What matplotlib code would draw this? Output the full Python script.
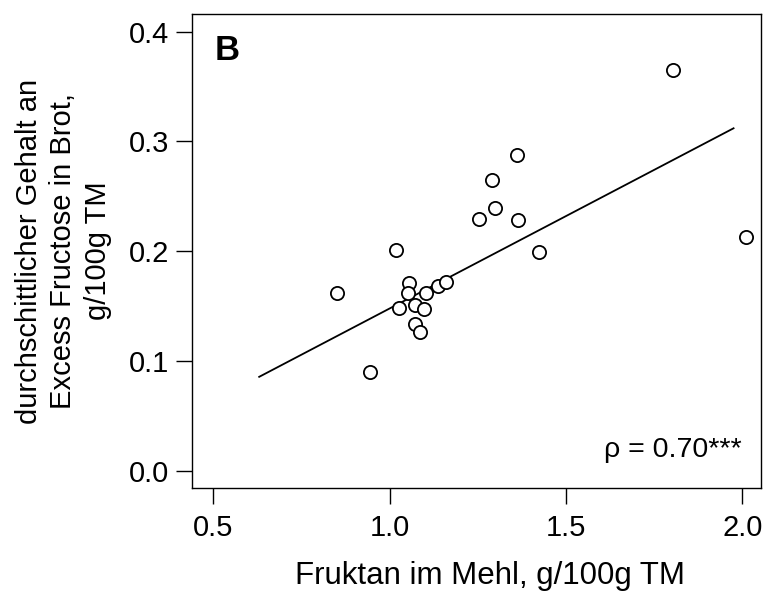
import numpy as np
import matplotlib
matplotlib.use("Agg")
import matplotlib.pyplot as plt

plt.rcParams['font.family'] = ['Liberation Sans', 'DejaVu Sans']

# Fruktan im Mehl (g/100g TM) vs. Excess Fructose in Brot (g/100g TM)
fruktan = [1.804, 2.009, 1.362, 1.291, 1.300, 1.252, 1.365, 1.424, 1.019, 0.850, 0.944,
           1.056, 1.053, 1.027, 1.071, 1.096, 1.103, 1.072, 1.087, 1.136, 1.161]
fructose = [0.365, 0.213, 0.288, 0.265, 0.239, 0.229, 0.228, 0.199, 0.201, 0.162, 0.090,
            0.171, 0.162, 0.148, 0.151, 0.147, 0.162, 0.134, 0.126, 0.168, 0.172]

# Regressionsgerade
fit_x = [0.63, 1.975]
fit_slope = 0.1684
fit_intercept = -0.0206

x_ticks = [0.5, 1.0, 1.5, 2.0]
y_ticks = [0.0, 0.1, 0.2, 0.3, 0.4]

fig = plt.figure(figsize=(7.66, 5.97), dpi=100)
ax = fig.add_axes([0.2507, 0.1826, 0.7424, 0.7939])

fit_y = [fit_slope * x + fit_intercept for x in fit_x]
ax.plot(fit_x, fit_y, color='black', linewidth=1.3)
ax.plot(fruktan, fructose, 'o', markersize=9.5, markerfacecolor='white',
        markeredgecolor='black', markeredgewidth=1.3, linestyle='none')

ax.set_xlim(0.4396, 2.052)
ax.set_ylim(-0.0158, 0.4161)
ax.set_xticks(x_ticks)
ax.set_yticks(y_ticks)
ax.set_xticklabels([f"{v:.1f}" for v in x_ticks])
ax.set_yticklabels([f"{v:.1f}" for v in y_ticks])
ax.tick_params(direction='out', length=11.5, width=1.0, labelsize=21, pad=5)
ax.tick_params(axis='x', pad=7)

for sp in ax.spines.values():
    sp.set_linewidth(1.0)

ax.set_xlabel("Fruktan im Mehl, g/100g TM", fontsize=22.5, labelpad=14)
ax.xaxis.label.set_x(0.524)
ax.set_ylabel("durchschittlicher Gehalt an\nExcess Fructose in Brot,\ng/100g TM",
              fontsize=21, labelpad=12, linespacing=1.3)

ax.text(0.04, 0.924, "B", transform=ax.transAxes, fontsize=25, fontweight='bold',
        ha='left', va='center')
ax.text(0.967, 0.08, "ρ = 0.70***", transform=ax.transAxes, fontsize=20.5,
        ha='right', va='center')

fig.savefig("out.png", dpi=100)
